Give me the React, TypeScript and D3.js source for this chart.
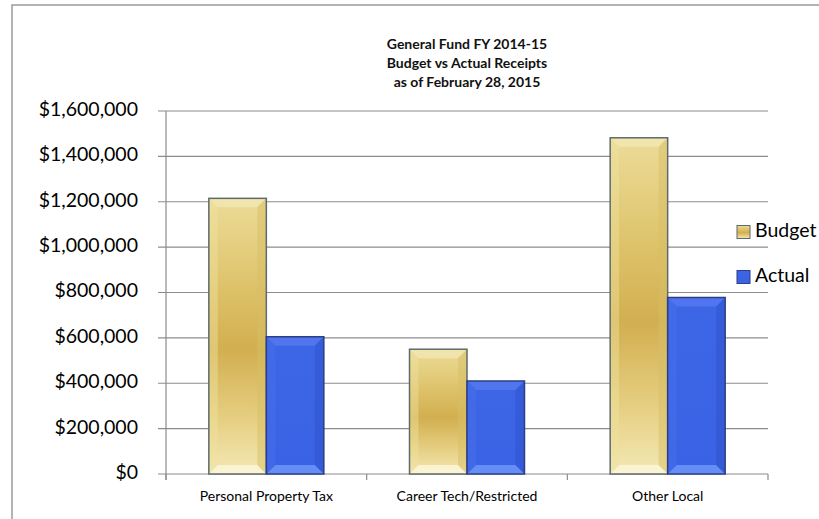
import React from 'react';
import * as d3 from 'd3';

// chart data
const categories = ['Personal Property Tax', 'Career Tech/Restricted', 'Other Local'];
const seriesNames = ['Budget', 'Actual'];
const budget = [1215000, 550000, 1482000];
const actual = [605000, 410000, 778000];
const yTicks = [0, 200000, 400000, 600000, 800000, 1000000, 1200000, 1400000, 1600000];
const titleLines = ['General Fund FY 2014-15', 'Budget vs Actual Receipts', 'as of February 28, 2015'];

const W = 819;
const H = 519;
const left = 166, right = 768, top = 111, bottom = 474;
const font = 'Lato, "Open Sans", sans-serif';

const x0 = d3.scaleBand().domain(categories).range([left, right]).paddingInner(0.427).paddingOuter(0.2135);
const x1 = d3.scaleBand().domain(seriesNames).range([0, x0.bandwidth()]);
const y = d3.scaleLinear().domain([0, 1600000]).range([bottom, top]);
const fmt = (v: number) => '$' + d3.format(',')(v);

const palette: Record<string, any> = {
    Budget: {
        stroke: '#5d6b6c', grad: 'gBudget',
        top: '#f1e6b2', bottom: '#fbf5d6', leftSide: '#efe2a0', rightSide: '#d8bd66'
    },
    Actual: {
        stroke: '#2c3f86', grad: 'gActual',
        top: '#5478ee', bottom: '#6a92f7', leftSide: '#4a70ea', rightSide: '#2d52cc'
    }
};

function Bar({x, y0, w, h, s}: {x: number, y0: number, w: number, h: number, s: string}) {
    const p = palette[s];
    const b = Math.min(9, h / 2);
    const x2 = x + w, y2 = y0 + h;
    return (
        <g>
            <rect x={x} y={y0} width={w} height={h} fill={`url(#${p.grad})`} />
            <polygon points={`${x},${y0} ${x2},${y0} ${x2 - b},${y0 + b} ${x + b},${y0 + b}`} fill={p.top} opacity={0.85} />
            <polygon points={`${x},${y2} ${x2},${y2} ${x2 - b},${y2 - b} ${x + b},${y2 - b}`} fill={p.bottom} opacity={0.9} />
            <polygon points={`${x},${y0} ${x + b},${y0 + b} ${x + b},${y2 - b} ${x},${y2}`} fill={p.leftSide} opacity={0.45} />
            <polygon points={`${x2},${y0} ${x2 - b},${y0 + b} ${x2 - b},${y2 - b} ${x2},${y2}`} fill={p.rightSide} opacity={0.5} />
            <rect x={x} y={y0} width={w} height={h} fill="none" stroke={p.stroke} strokeWidth={1.5} />
        </g>
    );
}

export default function App() {
    const values: Record<string, number[]> = {Budget: budget, Actual: actual};
    return (
        <svg width={W} height={H} style={{position: 'absolute', left: 0, top: 0, background: '#fff'}}>
            <defs>
                <linearGradient id="gBudget" x1="0" y1="0" x2="0" y2="1">
                    <stop offset="0%" stopColor="#ecdc98" />
                    <stop offset="35%" stopColor="#dcc066" />
                    <stop offset="55%" stopColor="#d2af50" />
                    <stop offset="80%" stopColor="#e6cf82" />
                    <stop offset="100%" stopColor="#f3e8b4" />
                </linearGradient>
                <linearGradient id="gActual" x1="0" y1="0" x2="0" y2="1">
                    <stop offset="0%" stopColor="#3d66e6" />
                    <stop offset="100%" stopColor="#3a62e4" />
                </linearGradient>
            </defs>
            {/* frame */}
            <path d={`M12,${H + 2} L12,5 L${W + 2},5`} fill="none" stroke="#9a9a9a" strokeWidth={1.5} />
            {titleLines.map((t, i) => (
                <text key={t} x={(left + right) / 2} y={45 + i * 19} textAnchor="middle" dominantBaseline="middle"
                      fontFamily={font} fontWeight="bold" fontSize={14} fill="#111">{t}</text>
            ))}
            {/* gridlines + y labels */}
            {yTicks.map(v => (
                <g key={v}>
                    <line x1={left - 8} x2={right} y1={y(v)} y2={y(v)} stroke="#8c8c8c" strokeWidth={1.2} />
                    <text x={138} y={y(v)} textAnchor="end" dominantBaseline="middle" fontFamily={font}
                          fontSize={19.5} fill="#000">{fmt(v)}</text>
                </g>
            ))}
            <line x1={left} x2={left} y1={top} y2={bottom + 6} stroke="#8c8c8c" strokeWidth={1.2} />
            {[...categories.map(c => x0(c)! - x0.step() * x0.paddingInner() / 2), right].map((t, i) => (
                <line key={i} x1={t} x2={t} y1={bottom} y2={bottom + 6} stroke="#8c8c8c" strokeWidth={1.2} />
            ))}
            {categories.map((c, i) => (
                <g key={c}>
                    {seriesNames.map(s => (
                        <Bar key={s} x={x0(c)! + x1(s)!} y0={y(values[s][i])} w={x1.bandwidth()}
                             h={bottom - y(values[s][i])} s={s} />
                    ))}
                    <text x={x0(c)! + x0.bandwidth() / 2} y={497} textAnchor="middle" dominantBaseline="middle"
                          fontFamily={font} fontSize={14} fill="#000">{c}</text>
                </g>
            ))}
            {/* legend */}
            {seriesNames.map((s, i) => (
                <g key={s} transform={`translate(737, ${232 + i * 45})`}>
                    <rect x={0} y={-6.5} width={13} height={13} fill={`url(#${palette[s].grad})`} stroke={palette[s].stroke} strokeWidth={1} />
                    <text x={18} y={0} dominantBaseline="middle" fontFamily={font} fontSize={19.5} fill="#000">{s}</text>
                </g>
            ))}
        </svg>
    );
}
